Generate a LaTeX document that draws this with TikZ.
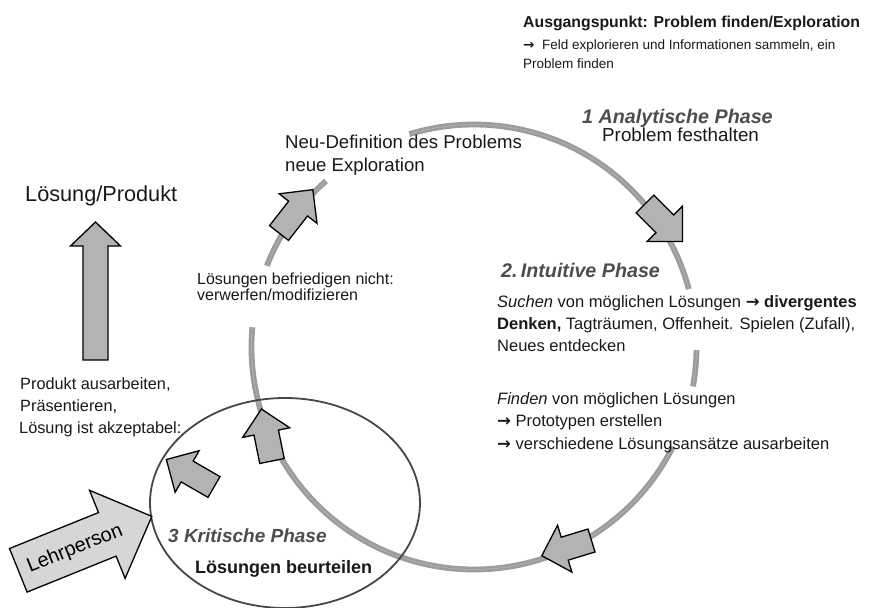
\documentclass[tikz,border=0pt]{standalone}
\usepackage{fontspec}
\usetikzlibrary{shapes.geometric}
\setmainfont{Liberation Sans}
\newfontfamily\arrowfont{DejaVu Sans}
\definecolor{ringgray}{HTML}{9C9C9C}
\definecolor{ringlight}{HTML}{B9B9B9}
\definecolor{arrowfill}{HTML}{B3B3B3}
\definecolor{lehrfill}{HTML}{D6D6D6}
\definecolor{phasegray}{HTML}{4D4D4D}
\definecolor{ellgray}{HTML}{474747}
\newcommand{\fs}[1]{\fontsize{#1}{#1}\selectfont}
\newcommand{\ra}{{\arrowfont\bfseries →}}
% block arrow: tail x, tail y, angle, length, shaft width, head width, head length, style
\newcommand{\barrow}[8]{%
  \begin{scope}[shift={(#1,#2)},rotate=#3]
    \path[#8] (0,{-(#5)/2}) -- ({#4-#7},{-(#5)/2}) -- ({#4-#7},{-(#6)/2}) -- (#4,0)
      -- ({#4-#7},{(#6)/2}) -- ({#4-#7},{(#5)/2}) -- (0,{(#5)/2}) -- cycle;
  \end{scope}}
\newcommand{\ringarc}[2]{%
  \draw[ringstroke] (ctr) ++(#1:222.5) arc[start angle=#1, end angle=#2, radius=222.5];
  \draw[ringinner] (ctr) ++(#1:222.5) arc[start angle=#1, end angle=#2, radius=222.5];}
\tikzset{
  ringstroke/.style={draw=ringgray, line width=5.8pt},
  ringinner/.style={draw=ringlight, line width=0.5pt},
  blockarrow/.style={draw=black, fill=arrowfill, line width=1.3pt, line join=miter},
  lehrarrow/.style={draw=black, fill=lehrfill, line width=1.3pt, line join=miter},
  txt/.style={anchor=base west, inner sep=0pt, text=black!90},
  phase/.style={txt, text=phasegray, font={\fs{19.7}\bfseries\itshape}},
}
\begin{document}
\begin{tikzpicture}[x=1pt, y=-1pt]
\useasboundingbox (0,0) rectangle (871,608);
\coordinate (ctr) at (474,347);

% ring (cycle) with gaps where text sits
\ringarc{-15.1}{-106.9}
\ringarc{-131.7}{-158.6}
\ringarc{-174.9}{-333.4}
\ringarc{10.2}{0.8}

% critical-phase ellipse
\node[draw=ellgray, line width=1.8pt, ellipse, minimum width=270pt, minimum height=210pt, inner sep=0pt] (crit) at (285,503) {};

% block arrows
\barrow{645}{204}{-45}{53}{25}{50}{25}{blockarrow}
\barrow{591.5}{540.5}{197}{52}{24}{49}{24}{blockarrow}
\barrow{272}{461}{101.5}{53}{25}{48}{24}{blockarrow}
\barrow{214}{487}{150}{55}{24}{48}{24}{blockarrow}
\barrow{279}{233}{52}{55}{24}{48}{24}{blockarrow}
\barrow{95.5}{360}{90}{138}{25}{50}{24}{blockarrow}
\barrow{18.3}{570.3}{22}{144}{47}{95}{48}{lehrarrow}
\node[rotate=22, inner sep=0pt, font={\fs{20}}] (lehr) at (75,549) {Lehrperson};

% heading
\node[txt, font={\fs{15.8}\bfseries}] (h1) at (523,27) {Ausgangspunkt: Problem finden/Exploration};
\node[txt, font={\fs{13.5}}] (h2) at (523,49) {\ra\ \ Feld explorieren und Informationen sammeln, ein};
\node[txt, font={\fs{13.5}}] (h3) at (523,68) {Problem finden};

% phase 1
\node[phase] (p1t) at (582,123) {1 Analytische Phase};
\node[txt, font={\fs{18.8}}] (p1s) at (602,141) {Problem festhalten};

% redefinition
\node[txt, font={\fs{18.6}}] (nd1) at (285,148) {Neu-Definition des Problems};
\node[txt, font={\fs{18.6}}] (nd2) at (285,171) {neue Exploration};

% product
\node[txt, font={\fs{21.7}}] (lp) at (25,201) {Lösung/Produkt};

% not satisfying
\node[txt, font={\fs{16}}] (lb1) at (197,284) {Lösungen befriedigen nicht:};
\node[txt, font={\fs{16}}] (lb2) at (197,300) {verwerfen/modifizieren};

% phase 2
\node[phase] (p2t) at (501,277) {2.\,Intuitive Phase};
\node[txt, font={\fs{16.5}}] (s1) at (497,307) {\textit{Suchen} von möglichen Lösungen \ra\ \textbf{divergentes}};
\node[txt, font={\fs{16.5}}] (s2) at (497,329) {\textbf{Denken,} Tagträumen, Offenheit. Spielen (Zufall),};
\node[txt, font={\fs{16.5}}] (s3) at (497,351) {Neues entdecken};
\node[txt, font={\fs{16.5}}] (f1) at (497,404) {\textit{Finden} von möglichen Lösungen};
\node[txt, font={\fs{16.5}}] (f2) at (497,426) {\ra\ Prototypen erstellen};
\node[txt, font={\fs{16.5}}] (f3) at (497,449) {\ra\ verschiedene Lösungsansätze ausarbeiten};

% product text
\node[txt, font={\fs{16.3}}] (pa1) at (20,389) {Produkt ausarbeiten,};
\node[txt, font={\fs{16.3}}] (pa2) at (20,411) {Präsentieren,};
\node[txt, font={\fs{16.3}}] (pa3) at (19,433) {Lösung ist akzeptabel:};

% phase 3
\node[phase, font={\fs{19}\bfseries\itshape}] (p3t) at (168,542) {3 Kritische Phase};
\node[txt, font={\fs{18}\bfseries}] (p3s) at (195,573) {Lösungen beurteilen};
\end{tikzpicture}
\end{document}
